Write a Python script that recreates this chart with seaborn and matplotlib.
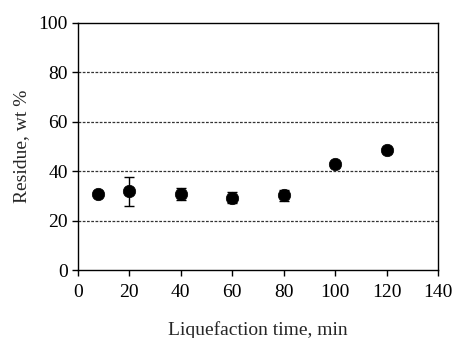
import matplotlib
matplotlib.use("Agg")
import matplotlib.pyplot as plt
import seaborn as sns
import pandas as pd

# Residue after liquefaction at each reaction time
time_min = [8, 20, 40, 60, 80, 100, 120]
residue_wt = [30.8, 31.8, 30.8, 29.2, 30.2, 42.8, 48.4]
residue_err = [1.0, 5.8, 2.6, 2.2, 2.3, 1.0, 1.0]

df = pd.DataFrame({"time": time_min, "residue": residue_wt, "err": residue_err})

sns.set_style("white")
plt.rcParams["font.family"] = ["Liberation Serif", "DejaVu Serif"]

fig = plt.figure(figsize=(4.53, 3.38), dpi=100)
ax = fig.add_axes([0.172, 0.201, 0.795, 0.731])

ax.errorbar(df["time"], df["residue"], yerr=df["err"], fmt="none",
            ecolor="black", elinewidth=1.0, capsize=3.5, capthick=1.0, zorder=2)
sns.scatterplot(data=df, x="time", y="residue", ax=ax, color="black",
                s=80, edgecolor="black", linewidth=0.5, zorder=3, legend=False)

ax.set_xlim(0, 140)
ax.set_ylim(0, 100)
ax.set_xticks(range(0, 141, 20))
ax.set_yticks(range(0, 101, 20))
for y in [20, 40, 60, 80]:
    ax.axhline(y, color="#333333", linestyle=(0, (2.2, 1.2)), linewidth=0.9, zorder=1)

for side in ["left", "right", "top", "bottom"]:
    ax.spines[side].set_visible(True)
    ax.spines[side].set_color("black")
    ax.spines[side].set_linewidth(1.0)

ax.tick_params(axis="both", which="major", direction="out", length=4.3, width=1.0,
               colors="black", labelsize=14)
ax.tick_params(axis="x", bottom=True, pad=5.5)
ax.tick_params(axis="y", left=True, pad=3)

ax.set_xlabel("Liquefaction time, min", fontsize=14, labelpad=15)
ax.set_ylabel("Residue, wt %", fontsize=14, labelpad=6)

fig.savefig("out.png", dpi=100)
